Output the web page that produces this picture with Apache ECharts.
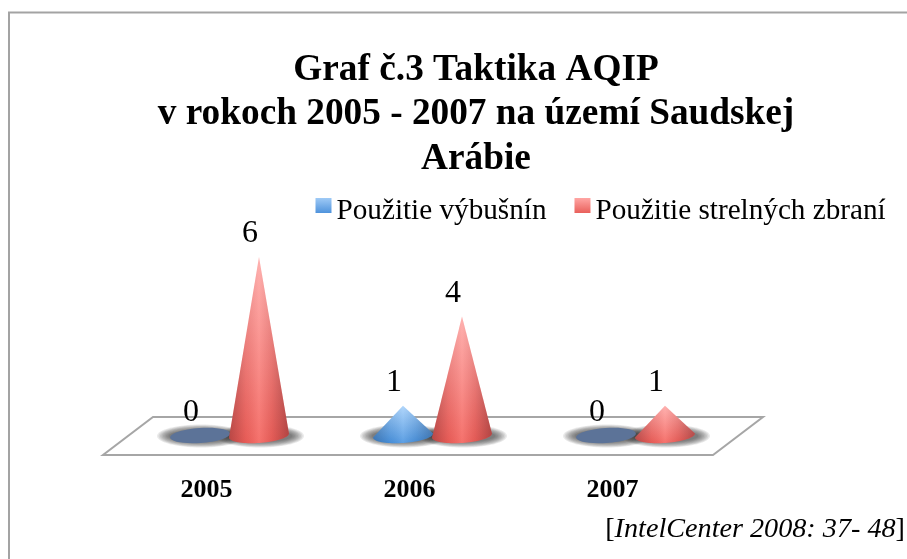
<!DOCTYPE html>
<html><head><meta charset="utf-8">
<style>html,body{margin:0;padding:0;background:#fff}#c{width:907px;height:559px}</style>
<script src="https://cdn.jsdelivr.net/npm/echarts@6/dist/echarts.min.js"></script>
</head><body><div id="c"></div>
<script>
const categories = ['2005', '2006', '2007'];
const explosives = [0, 1, 0];
const firearms = [6, 4, 1];
const seriesNames = ['Použitie výbušnín', 'Použitie strelných zbraní'];
const titleText = 'Graf č.3 Taktika AQIP\nv rokoch 2005 - 2007 na území Saudskej\nArábie';

const FONT = '"Liberation Serif","Times New Roman",serif';
const palette = {
  blue: {top:'#a9d2fb', bottom:'#4a94e0', flat:'#5c7398', key:['#9fcaf6','#4f93dc'], shade:'20,50,90'},
  red:  {top:'#ffa9a7', bottom:'#f4625c', flat:'#a8504e', key:['#ffa6a4','#e9605b'], shade:'70,15,20'}
};
const TILT = -4 * Math.PI / 180;
function ellipsePt(cx, cy, rx, ry, t){
  const x = rx*Math.cos(t), y = ry*Math.sin(t);
  return [cx + x*Math.cos(TILT) - y*Math.sin(TILT), cy + x*Math.sin(TILT) + y*Math.cos(TILT)];
}
function grad(x2,y2,stops){return {type:'linear',x:0,y:0,x2:x2,y2:y2,colorStops:stops.map(s=>({offset:s[0],color:s[1]}))};}

function coneRenderer(pal, dxFrac){
  return function(params, api){
    const idx = api.value(0), val = api.value(1);
    const base = api.coord([idx, 0]);
    const tip = api.coord([idx, val]);
    const band = api.size([1, 0])[0];
    const cx = base[0] + band*dxFrac, cy = base[1];
    const rx = 30, ry = 7.5;
    const sh = 'rgba('+pal.shade+',';
    const kids = [];
    for (let k=0;k<9;k++) {
      kids.push({type:'ellipse', z2:1, shape:{cx:cx+1, cy:cy+0.5, rx:rx+14-k*1.5, ry:ry+4-k*0.7},
        style:{fill:'rgba(50,50,50,0.10)'}});
    }
    if (val === 0) {
      kids.push({type:'ellipse', z2:10, rotation:-TILT, originX:cx, originY:cy,
        shape:{cx:cx, cy:cy, rx:rx, ry:ry}, style:{fill:pal.flat}});
    } else {
      const pts = [[cx, tip[1]]];
      for (let i=0;i<=40;i++) pts.push(ellipsePt(cx, cy, rx, ry, i/40*Math.PI));
      kids.push({type:'polygon', z2:10, shape:{points:pts},
        style:{fill:grad(0,1,[[0,pal.top],[1,pal.bottom]])}});
      kids.push({type:'polygon', z2:11, shape:{points:pts},
        style:{fill:grad(1,0,[[0,sh+'0.34)'],[0.28,sh+'0.08)'],[0.5,'rgba(255,255,255,0.10)'],[0.72,sh+'0.10)'],[1,sh+'0.38)']])}});
    }
    kids.push({type:'text', z2:20, style:{
      x:cx-9, y:tip[1]-23, text:String(val), fill:'#000',
      font:'32px '+FONT, align:'center', verticalAlign:'middle'}});
    return {type:'group', children:kids};
  };
}
function rows(values){return values.map((v,i)=>[i,v]);}

const chart = echarts.init(document.getElementById('c'), null, {renderer:'canvas'});
chart.setOption({
  animation:false,
  backgroundColor:'#fff',
  title:{text:titleText, left:471, top:43, textAlign:'center',
    textStyle:{fontFamily:FONT, fontWeight:'bold', fontSize:37.3, lineHeight:44.5, color:'#000'}},
  legend:{left:310.5, top:192, icon:'rect', itemWidth:16, itemHeight:15, itemGap:28,
    selectedMode:false,
    formatter:'{t|{name}}',
    textStyle:{rich:{t:{fontFamily:FONT, fontSize:29.2, color:'#000', padding:[12,0,0,0]}}},
    data:[
      {name:seriesNames[0], itemStyle:{color:grad(0,1,[[0,palette.blue.key[0]],[1,palette.blue.key[1]]])}},
      {name:seriesNames[1], itemStyle:{color:grad(0,1,[[0,palette.red.key[0]],[1,palette.red.key[1]]])}}
    ]},
  grid:{left:128.5, width:609, top:257, height:178.5},
  xAxis:{type:'category', data:categories,
    axisLine:{show:false}, axisTick:{show:false}, splitLine:{show:false},
    axisLabel:{fontFamily:FONT, fontWeight:'bold', fontSize:26, color:'#000',
      margin:42, padding:[0,47,0,0]}},
  yAxis:{type:'value', min:0, max:6, interval:1, show:false},
  graphic:{elements:[
    {type:'polyline', z:0, shape:{points:[[9,559],[9,12.5],[907,12.5]]}, style:{stroke:'#a3a3a3', lineWidth:2, fill:null}},
    {type:'polygon', z:0, shape:{points:[[153,417],[763,417],[713,455],[103,455]]}, style:{stroke:'#a6a6a6', lineWidth:2, fill:'#fff'}},
    {type:'text', z:5, right:2, top:516, style:{
      text:'{n|[}{i|IntelCenter 2008: 37- 48}{n|]}',
      rich:{n:{fontFamily:FONT,fontSize:28.2,fill:'#000',color:'#000'},i:{fontFamily:FONT,fontSize:28.2,fontStyle:'italic',fill:'#000',color:'#000'}}
    }}
  ]},
  series:[
    {name:seriesNames[0], type:'custom', coordinateSystem:'cartesian2d', z:2, clip:false, renderItem:coneRenderer(palette.blue, -30/203), data:rows(explosives), encode:{x:0,y:1}},
    {name:seriesNames[1], type:'custom', coordinateSystem:'cartesian2d', z:2, clip:false, renderItem:coneRenderer(palette.red, 29/203), data:rows(firearms), encode:{x:0,y:1}}
  ]
});
</script></body></html>
